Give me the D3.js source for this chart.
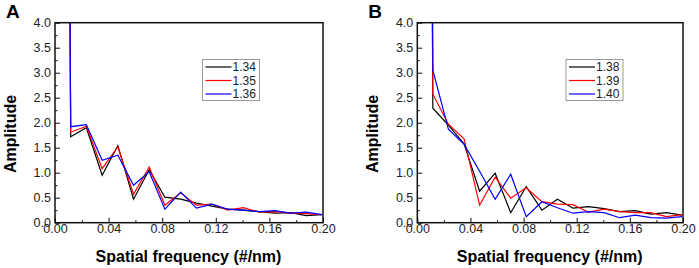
<!DOCTYPE html>
<html>
<head>
<meta charset="utf-8">
<script src="https://cdn.jsdelivr.net/npm/d3@7"></script>
<style>
  body { margin: 0; background: #fff; }
  svg text { font-family: "Liberation Sans", Arial, sans-serif; }
</style>
</head>
<body>
<svg id="chart" width="699" height="268"></svg>
<script>
// Spatial frequency sample positions (#/nm); first bin is the DC term, clipped off the top
const freq = [0, 0.0117, 0.0234, 0.0352, 0.0469, 0.0586, 0.0703, 0.0820, 0.0938,
  0.1055, 0.1172, 0.1289, 0.1406, 0.1523, 0.1641, 0.1758, 0.1875, 0.1992];

const namesA = ['1.34', '1.35', '1.36'];
const a134 = [60, 1.72, 1.90, 0.95, 1.54, 0.47, 1.06, 0.51, 0.47, 0.39, 0.33, 0.27, 0.25, 0.22, 0.19, 0.20, 0.14, 0.16];
const a135 = [60, 1.81, 1.93, 1.08, 1.52, 0.57, 1.11, 0.35, 0.60, 0.35, 0.37, 0.25, 0.30, 0.21, 0.22, 0.19, 0.18, 0.16];
const a136 = [60, 1.92, 1.96, 1.25, 1.35, 0.75, 1.02, 0.27, 0.61, 0.29, 0.37, 0.27, 0.25, 0.22, 0.24, 0.19, 0.21, 0.16];

const namesB = ['1.38', '1.39', '1.40'];
const b138 = [60, 2.29, 1.95, 1.58, 0.63, 0.99, 0.20, 0.72, 0.25, 0.47, 0.29, 0.32, 0.28, 0.22, 0.24, 0.17, 0.20, 0.15];
const b139 = [60, 2.57, 1.97, 1.68, 0.35, 0.91, 0.49, 0.70, 0.42, 0.37, 0.36, 0.21, 0.27, 0.22, 0.20, 0.20, 0.12, 0.16];
const b140 = [60, 3.05, 1.87, 1.57, 1.03, 0.47, 0.97, 0.12, 0.42, 0.30, 0.19, 0.22, 0.20, 0.10, 0.15, 0.10, 0.09, 0.12];

const xTicks = [0, 0.04, 0.08, 0.12, 0.16, 0.20];
const yTicks = [0, 0.5, 1.0, 1.5, 2.0, 2.5, 3.0, 3.5, 4.0];
const colors = ['#000000', '#ff0000', '#0000ff'];

const svg = d3.select('#chart');

function drawPanel(id, left, right, letter, names, series, legend) {
  const top = 22.7, bottom = 222.7;
  const x = d3.scaleLinear().domain([0, 0.2]).range([left, right]);
  const y = d3.scaleLinear().domain([0, 4]).range([bottom, top]);

  svg.append('clipPath').attr('id', 'clip' + id)
    .append('rect')
    .attr('x', left).attr('y', top)
    .attr('width', right - left).attr('height', bottom - top);

  // lines
  const line = d3.line().x((d, i) => x(freq[i])).y(d => y(d));
  const lg = svg.append('g').attr('clip-path', `url(#clip${id})`);
  series.forEach((s, i) => {
    lg.append('path')
      .datum(s)
      .attr('d', line)
      .attr('fill', 'none')
      .attr('stroke', colors[i])
      .attr('stroke-width', 1.2);
  });

  // minor ticks (inward)
  svg.append('g')
    .attr('transform', `translate(0,${bottom})`)
    .call(d3.axisTop(x).tickValues(d3.range(0.02, 0.2, 0.04)).tickSize(2.5).tickFormat(''))
    .call(g => g.select('.domain').remove())
    .call(g => g.selectAll('line').attr('stroke', '#111'));
  svg.append('g')
    .attr('transform', `translate(${left},0)`)
    .call(d3.axisRight(y).tickValues(d3.range(0.25, 4, 0.5)).tickSize(2.5).tickFormat(''))
    .call(g => g.select('.domain').remove())
    .call(g => g.selectAll('line').attr('stroke', '#111'));

  // major ticks
  const xa = svg.append('g')
    .attr('transform', `translate(0,${bottom})`)
    .call(d3.axisTop(x).tickValues(xTicks).tickSize(5).tickFormat(d3.format('.2f')));
  xa.select('.domain').remove();
  xa.selectAll('line').attr('stroke', '#111');
  xa.selectAll('text')
    .attr('y', 10.5).attr('dy', 0)
    .attr('font-size', '12.5px')
    .attr('fill', '#222');

  const ya = svg.append('g')
    .attr('transform', `translate(${left},0)`)
    .call(d3.axisRight(y).tickValues(yTicks).tickSize(5).tickFormat(d3.format('.1f')));
  ya.select('.domain').remove();
  ya.selectAll('line').attr('stroke', '#111');
  ya.selectAll('text')
    .attr('x', -4).attr('dy', '0.3em')
    .attr('text-anchor', 'end')
    .attr('font-size', '12.5px')
    .attr('fill', '#222');

  // frame
  svg.append('rect')
    .attr('x', left).attr('y', top)
    .attr('width', right - left).attr('height', bottom - top)
    .attr('fill', 'none')
    .attr('stroke', '#111')
    .attr('stroke-width', 1.5);

  // axis titles
  svg.append('text')
    .attr('x', (left + right) / 2 - 0.5)
    .attr('y', 262)
    .attr('text-anchor', 'middle')
    .attr('font-size', '16px')
    .attr('font-weight', 'bold')
    .text('Spatial frequency (#/nm)');

  svg.append('text')
    .attr('transform', `translate(${left - 39},134) rotate(-90)`)
    .attr('text-anchor', 'middle')
    .attr('font-size', '16px')
    .attr('font-weight', 'bold')
    .text('Amplitude');

  svg.append('text')
    .attr('x', left - 49)
    .attr('y', 18)
    .attr('font-size', '19px')
    .attr('font-weight', 'bold')
    .text(letter);

  // legend
  const leg = svg.append('g').attr('transform', `translate(${legend[0]},${legend[1]})`);
  leg.append('rect')
    .attr('width', 57).attr('height', 41)
    .attr('fill', '#fff')
    .attr('stroke', '#999')
    .attr('stroke-width', 1);
  names.forEach((n, i) => {
    const ry = 7.5 + i * 13.5;
    leg.append('line')
      .attr('x1', 3).attr('x2', 29)
      .attr('y1', ry).attr('y2', ry)
      .attr('stroke', colors[i])
      .attr('stroke-width', 1.2);
    leg.append('text')
      .attr('x', 30).attr('y', ry)
      .attr('dy', '0.36em')
      .attr('font-size', '12px')
      .attr('fill', '#222')
      .text(n);
  });
}

drawPanel('A', 55, 323, 'A', namesA, [a134, a135, a136], [202.5, 59.5]);
drawPanel('B', 417.3, 683, 'B', namesB, [b138, b139, b140], [566, 59.5]);
</script>
</body>
</html>
